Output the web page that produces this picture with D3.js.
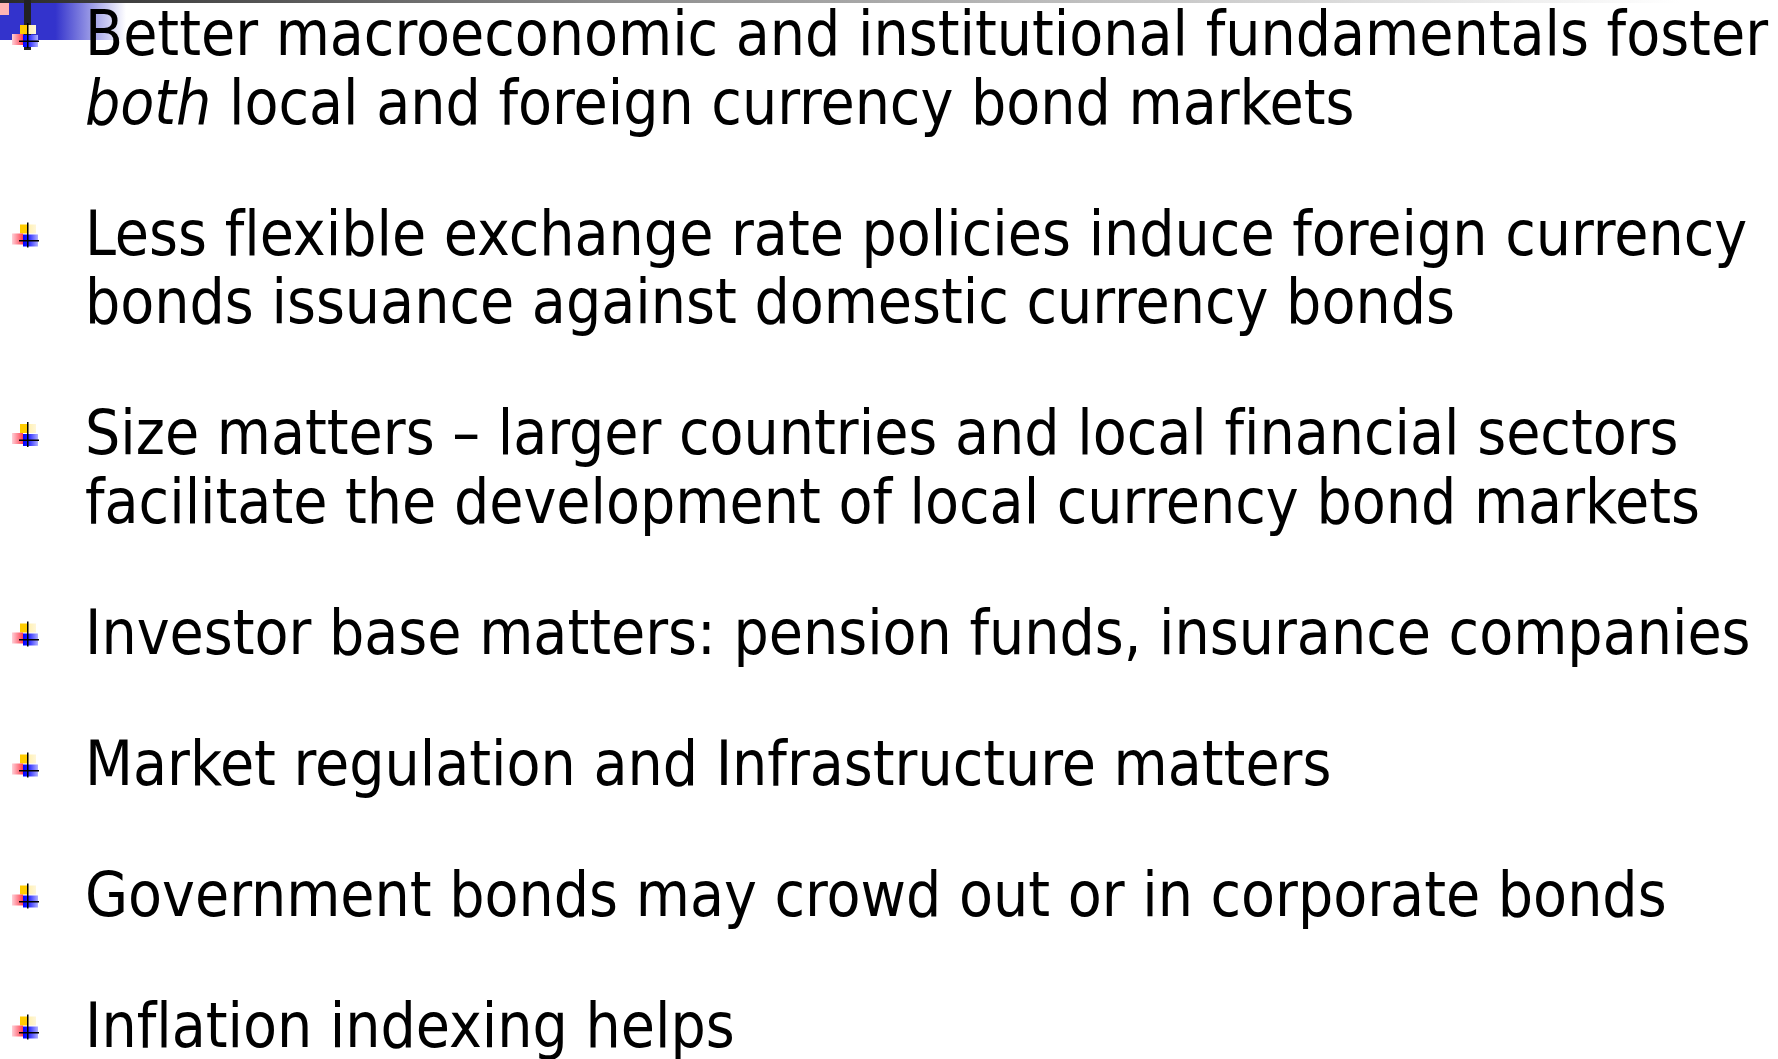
<!DOCTYPE html>
<html>
<head>
<meta charset="utf-8">
<script src="https://cdn.jsdelivr.net/npm/d3@7"></script>
<style>
  html, body { margin: 0; padding: 0; background: #fff; overflow: hidden; }
  svg { display: block; }
  text { font-variant-ligatures: none; font-feature-settings: "liga" 0, "clig" 0; }
</style>
</head>
<body>
<div id="slide"></div>
<script>
// slide text, one entry per bullet, one string per line ( *word* = italic )
const bullets = [
  ["Better macroeconomic and institutional fundamentals foster",
   "*both* local and foreign currency bond markets"],
  ["Less flexible exchange rate policies induce foreign currency",
   "bonds issuance against domestic currency bonds"],
  ["Size matters \u2013 larger countries and local financial sectors",
   "facilitate the development of local currency bond markets"],
  ["Investor base matters: pension funds, insurance companies"],
  ["Market regulation and Infrastructure matters"],
  ["Government bonds may crowd out or in corporate bonds"],
  ["Inflation indexing helps"]
]

const W = 1778, H = 1059
const svg = d3.select("#slide")
  .append("svg")
  .attr("width", W)
  .attr("height", H)

const defs = svg.append("defs")

function grad(id, stops, x2) {
  const g = defs.append("linearGradient")
    .attr("id", id)
    .attr("x1", "0").attr("y1", "0")
    .attr("x2", x2 || "1").attr("y2", "0")
  stops.forEach(s => g.append("stop").attr("offset", s[0]).attr("stop-color", s[1]))
}
grad("topline", [[0, "#2a2a2a"], [0.35, "#8a8a8a"], [1, "#ffffff"]])
grad("blueband", [[0, "#3333cc"], [0.44, "#3333cc"], [1, "#ffffff"]])
grad("bYel", [[0, "#ffcc00"], [0.45, "#ffcc00"], [0.5, "#fff0b0"], [1, "#fff6d8"]])
grad("bRed", [[0, "#ffd0d8"], [1, "#ff4050"]])
grad("bBlue", [[0, "#0000ff"], [0.35, "#2020ff"], [1, "#b0b0ff"]])

// header decoration
svg.append("rect").attr("x", 0).attr("y", 3).attr("width", 126).attr("height", 37)
  .attr("fill", "url(#blueband)")
svg.append("rect").attr("x", 0).attr("y", 0).attr("width", 1680).attr("height", 3)
  .attr("fill", "url(#topline)")
svg.append("rect").attr("x", 0).attr("y", 3).attr("width", 9).attr("height", 12)
  .attr("fill", "#ffb4b4")
svg.append("rect").attr("x", 24).attr("y", 0).attr("width", 7).attr("height", 50)
  .attr("fill", "#222")

// flatten lines with their position index
const rows = []
bullets.forEach((b, i) => b.forEach((t, j) => rows.push({item: i, line: j, text: t})))
rows.forEach((r, k) => { r.k = k })

const lineStep = 68.5, itemGap = 62.5
const baseY = d3.scaleLinear().domain([0, 1]).range([55, 55 + lineStep])
const yOf = r => baseY(r.k) + itemGap * r.item

const textX = 85
const fontFamily = "Tahoma, 'DejaVu Sans Condensed', 'DejaVu Sans', sans-serif"

const txt = svg.append("g")
  .attr("font-family", fontFamily)
  .attr("fill", "#000")

const texts = txt.selectAll("text")
  .data(rows)
  .join("text")
  .attr("x", textX)
  .attr("y", yOf)

texts.each(function(d) {
  const parts = d.text.split("*")
  const el = d3.select(this)
  parts.forEach((p, i) => {
    if (p === "") return
    el.append("tspan")
      .attr("font-style", i % 2 === 1 ? "italic" : null)
      .text(p)
  })
})

// fit font size to first line width (1683px in the slide)
let fs = 62
texts.attr("font-size", fs)
const w0 = texts.nodes()[0].getComputedTextLength()
fs = fs * 1683 / w0
texts.attr("font-size", fs.toFixed(2))

// bullet glyphs on each bullet's first line
const firsts = rows.filter(r => r.line === 0)
const bul = svg.append("g").selectAll("g")
  .data(firsts)
  .join("g")
  .attr("transform", d => "translate(0," + yOf(d) + ")")

bul.append("rect").attr("x", 20).attr("y", -30).attr("width", 16).attr("height", 9)
  .attr("fill", "url(#bYel)")
bul.append("rect").attr("x", 12).attr("y", -21).attr("width", 11).attr("height", 11)
  .attr("fill", "url(#bRed)")
bul.append("rect").attr("x", 23).attr("y", -20).attr("width", 15).attr("height", 12)
  .attr("fill", "url(#bBlue)")
bul.append("rect").attr("x", 27).attr("y", -32).attr("width", 1.5).attr("height", 25)
  .attr("fill", "#000")
bul.append("rect").attr("x", 19).attr("y", -14.5).attr("width", 20).attr("height", 1.5)
  .attr("fill", "#000")
</script>
</body>
</html>
